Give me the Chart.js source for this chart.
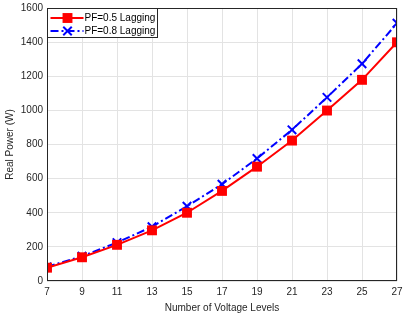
<!DOCTYPE html>
<html>
<head>
<script src="https://cdn.jsdelivr.net/npm/chart.js"></script>
<style>
  html, body { margin: 0; padding: 0; background: #fff; }
</style>
</head>
<body>
<canvas id="myChart" width="405" height="314"></canvas>
<script>
const levels = [7, 9, 11, 13, 15, 17, 19, 21, 23, 25, 27];
const pf05 = [78, 139, 212, 297, 400, 528, 670, 823, 999, 1179, 1399];
const pf08 = [83, 145, 225, 318, 438, 567, 718, 886, 1076, 1273, 1511];
const seriesNames = ['PF=0.5 Lagging', 'PF=0.8 Lagging'];

const fontFam = 'Arial, "Liberation Sans", sans-serif';

// box around the plot + legend drawn inside, MATLAB style
const frameLegend = {
  id: 'frameLegend',
  afterDatasetsDraw(chart) {
    const ctx = chart.ctx;
    const a = chart.chartArea;
    ctx.save();
    ctx.strokeStyle = '#262626';
    ctx.lineWidth = 1;
    ctx.strokeRect(a.left + 0.5, a.top + 0.5, a.right - a.left - 1, a.bottom - a.top - 1);

    const bx = a.left + 0.5, by = a.top + 0.5, bw = 110, bh = 29;
    ctx.fillStyle = '#fff';
    ctx.fillRect(bx, by, bw, bh);
    ctx.strokeStyle = '#262626';
    ctx.strokeRect(bx, by, bw, bh);

    ctx.font = '10px ' + fontFam;
    ctx.textBaseline = 'middle';
    chart.data.datasets.forEach((ds, i) => {
      const y = by + 9.5 + i * 13;
      ctx.strokeStyle = ds.borderColor;
      ctx.lineWidth = 2;
      ctx.setLineDash(ds.borderDash || []);
      ctx.beginPath();
      ctx.moveTo(bx + 3, y);
      ctx.lineTo(bx + 36, y);
      ctx.stroke();
      ctx.setLineDash([]);
      ctx.fillStyle = ds.pointBackgroundColor;
      ctx.strokeStyle = ds.pointBorderColor;
      ctx.lineWidth = ds.pointBorderWidth || 0.01;
      Chart.helpers.drawPoint(ctx, {
        pointStyle: ds.pointStyle,
        radius: ds.pointRadius,
        borderWidth: ds.pointBorderWidth
      }, bx + 20, y);
      ctx.fillStyle = '#000';
      ctx.fillText(ds.label, bx + 37, y + 0.5);
    });
    ctx.restore();
  }
};

new Chart(document.getElementById('myChart'), {
  type: 'line',
  data: {
    labels: levels,
    datasets: [
      {
        label: seriesNames[0],
        data: pf05,
        borderColor: '#ff0000',
        backgroundColor: '#ff0000',
        borderWidth: 2,
        pointStyle: 'rect',
        pointRadius: 7,
        pointBorderWidth: 0,
        pointBackgroundColor: '#ff0000',
        pointBorderColor: '#ff0000',
        tension: 0
      },
      {
        label: seriesNames[1],
        data: pf08,
        borderColor: '#0000ff',
        backgroundColor: '#0000ff',
        borderWidth: 2,
        borderDash: [8, 3, 2, 3],
        pointStyle: 'crossRot',
        pointRadius: 6,
        pointBorderWidth: 2,
        pointBackgroundColor: '#0000ff',
        pointBorderColor: '#0000ff',
        tension: 0
      }
    ]
  },
  options: {
    responsive: false,
    animation: false,
    layout: { padding: { left: 0, right: 8, top: 5, bottom: 0 } },
    plugins: {
      legend: { display: false },
      tooltip: { enabled: false }
    },
    scales: {
      x: {
        type: 'linear',
        min: 7,
        max: 27,
        afterFit: s => { s.height = 33; s.paddingRight = 0; s.paddingLeft = 0; },
        ticks: { stepSize: 2, color: '#262626', font: { size: 10, family: fontFam }, padding: 5, maxRotation: 0 },
        grid: { color: '#e3e3e3', drawTicks: false },
        border: { display: false },
        title: { display: true, text: 'Number of Voltage Levels', color: '#262626', font: { size: 10, family: fontFam }, padding: { top: 2, bottom: 0 } }
      },
      y: {
        min: 0,
        max: 1600,
        afterFit: s => { s.width = 47; s.paddingTop = 0; s.paddingBottom = 0; },
        ticks: { stepSize: 200, color: '#262626', font: { size: 10, family: fontFam }, padding: 4, callback: v => String(v) },
        grid: { color: '#e3e3e3', drawTicks: false },
        border: { display: false },
        title: { display: true, text: 'Real Power (W)', color: '#262626', font: { size: 10, family: fontFam }, padding: { top: 4, bottom: 0 } }
      }
    }
  },
  plugins: [frameLegend]
});
</script>
</body>
</html>
